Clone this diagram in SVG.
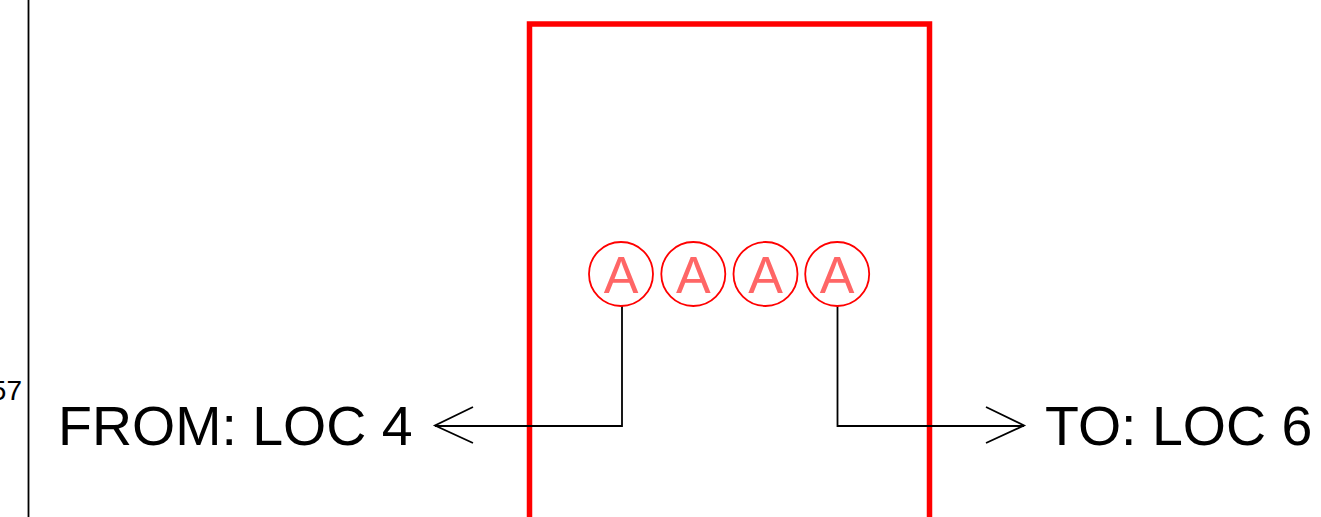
<svg xmlns="http://www.w3.org/2000/svg" width="1321" height="517" viewBox="0 0 1321 517">
<style>
.lbl{font-family:"Liberation Sans",Arial,sans-serif;fill:#000}
.node circle{fill:#fff;stroke:#f00;stroke-width:1.8}
.node text{font-family:"Liberation Sans",Arial,sans-serif;font-size:52px;fill:#ff6666;text-anchor:middle}
.conn{fill:none;stroke:#000;stroke-width:1.8}
</style>
<rect width="1321" height="517" fill="#fff"/>
<line x1="28.5" y1="0" x2="28.5" y2="517" stroke="#000" stroke-width="1.8"/>
<text class="lbl" x="22" y="400" font-size="28" text-anchor="end">57</text>
<g id="box">
<path d="M529.5 517 V24 H929.5 V517" fill="none" stroke="#f00" stroke-width="5.5"/>
</g>
<g id="connectors">
<path class="conn" d="M622 306 V426 H435"/>
<path class="conn" d="M473 407 L435 425.5 L473 443"/>
<path class="conn" d="M837.5 306 V426 H1024"/>
<path class="conn" d="M986 407 L1024 425.5 L986 443"/>
</g>
<g id="nodeA1" class="node"><circle cx="621" cy="274" r="32"/><text x="621" y="293">A</text></g>
<g id="nodeA2" class="node"><circle cx="693.3" cy="274" r="32"/><text x="693.3" y="293">A</text></g>
<g id="nodeA3" class="node"><circle cx="765.5" cy="274" r="32"/><text x="765.5" y="293">A</text></g>
<g id="nodeA4" class="node"><circle cx="837.2" cy="274" r="32"/><text x="837.2" y="293">A</text></g>
<g id="from"><text class="lbl" x="58" y="445" font-size="55.5">FROM: LOC 4</text></g>
<g id="to"><text class="lbl" x="1045" y="445" font-size="55.5">TO: LOC 6</text></g>
</svg>
